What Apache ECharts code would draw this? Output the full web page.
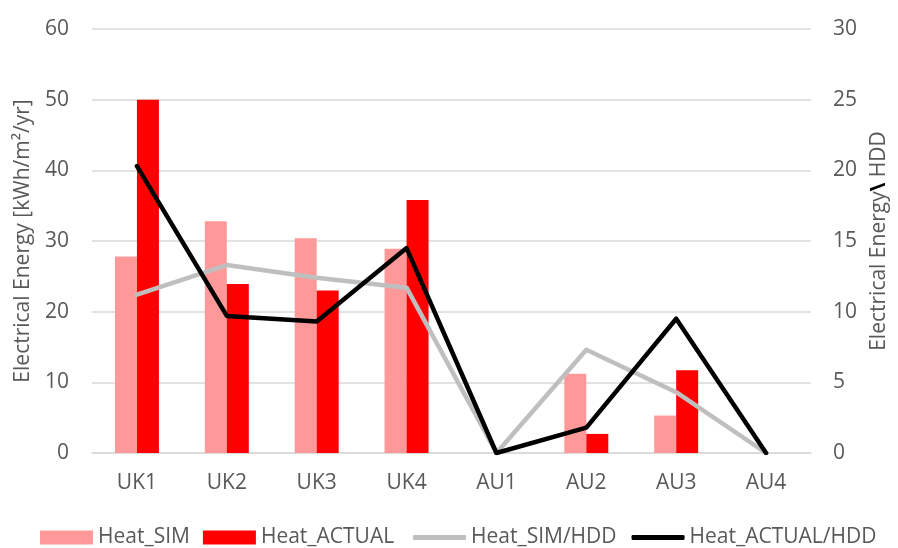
<!DOCTYPE html>
<html>
<head>
<meta charset="utf-8">
<script src="https://cdn.jsdelivr.net/npm/echarts@6/dist/echarts.min.js"></script>
<style>
html,body{margin:0;padding:0;background:#fff;}
#c{width:898px;height:548px;}
</style>
</head>
<body>
<div id="c"></div>
<script>
const categories = ['UK1','UK2','UK3','UK4','AU1','AU2','AU3','AU4'];
const heatSim = [27.8, 32.8, 30.4, 28.9, 0, 11.2, 5.3, 0];
const heatActual = [50, 23.9, 23.0, 35.8, 0, 2.7, 11.7, 0];
const heatSimHdd = [11.2, 13.3, 12.4, 11.7, 0, 7.3, 4.3, 0];
const heatActualHdd = [20.3, 9.7, 9.3, 14.5, 0, 1.8, 9.5, 0];
const leftTicks = {min: 0, max: 60, interval: 10};
const rightTicks = {min: 0, max: 30, interval: 5};

const FONT = 'Open Sans';
const TXT = '#595959';
const FS = 21;

const chart = echarts.init(document.getElementById('c'), null, {renderer: 'canvas'});
chart.setOption({
  animation: false,
  backgroundColor: '#ffffff',
  textStyle: {fontFamily: FONT, color: TXT},
  grid: {left: 92, right: 86, top: 29, bottom: 95, containLabel: false},
  legend: [
    {
      left: 35,
      top: 522,
      itemWidth: 53,
      itemHeight: 14,
      itemGap: 13,
      icon: 'rect',
      textStyle: {fontFamily: FONT, fontSize: FS, color: TXT},
      data: ['Heat_SIM','Heat_ACTUAL']
    },
    {
      left: 408,
      top: 522,
      itemWidth: 53,
      itemHeight: 5,
      itemGap: 15,
      icon: 'roundRect',
      textStyle: {fontFamily: FONT, fontSize: FS, color: TXT},
      data: ['Heat_SIM/HDD','Heat_ACTUAL/HDD']
    }
  ],
  xAxis: {
    type: 'category',
    data: categories,
    axisLine: {lineStyle: {color: '#d9d9d9', width: 1.5}},
    axisTick: {show: false},
    axisLabel: {fontFamily: FONT, fontSize: FS, color: TXT, margin: 20}
  },
  yAxis: [
    {
      type: 'value',
      min: leftTicks.min, max: leftTicks.max, interval: leftTicks.interval,
      name: 'Electrical Energy [kWh/m²/yr]',
      nameLocation: 'middle',
      nameGap: 58,
      nameTextStyle: {fontFamily: FONT, fontSize: FS, color: TXT},
      axisLine: {show: false},
      axisTick: {show: false},
      axisLabel: {fontFamily: FONT, fontSize: FS, color: TXT, margin: 23},
      splitLine: {lineStyle: {color: '#d9d9d9', width: 1.5}}
    },
    {
      type: 'value',
      position: 'right',
      min: rightTicks.min, max: rightTicks.max, interval: rightTicks.interval,
      name: '{a|Electrical Energy}{b|\\}{a| HDD}',
      nameLocation: 'middle',
      nameGap: 58,
      nameTextStyle: {
        fontFamily: FONT, fontSize: FS, color: TXT,
        rich: {
          a: {fontFamily: FONT, fontSize: FS, color: TXT},
          b: {fontFamily: FONT, fontSize: FS, color: '#000', fontWeight: 'bold'}
        }
      },
      axisLine: {show: false},
      axisTick: {show: false},
      axisLabel: {fontFamily: FONT, fontSize: FS, color: TXT, margin: 22},
      splitLine: {show: false}
    }
  ],
  series: [
    {
      name: 'Heat_SIM', type: 'bar', data: heatSim,
      barWidth: 22, barGap: '0%',
      itemStyle: {color: '#FF9999'}
    },
    {
      name: 'Heat_ACTUAL', type: 'bar', data: heatActual,
      barWidth: 22, barGap: '0%',
      itemStyle: {color: '#FF0000'}
    },
    {
      name: 'Heat_SIM/HDD', type: 'line', yAxisIndex: 1, data: heatSimHdd,
      symbol: 'none', z: 3,
      lineStyle: {color: '#BFBFBF', width: 4.5, cap: 'round', join: 'round'},
      itemStyle: {color: '#BFBFBF'}
    },
    {
      name: 'Heat_ACTUAL/HDD', type: 'line', yAxisIndex: 1, data: heatActualHdd,
      symbol: 'none', z: 4,
      lineStyle: {color: '#000000', width: 4.5, cap: 'round', join: 'round'},
      itemStyle: {color: '#000000'}
    }
  ]
});
</script>
</body>
</html>
